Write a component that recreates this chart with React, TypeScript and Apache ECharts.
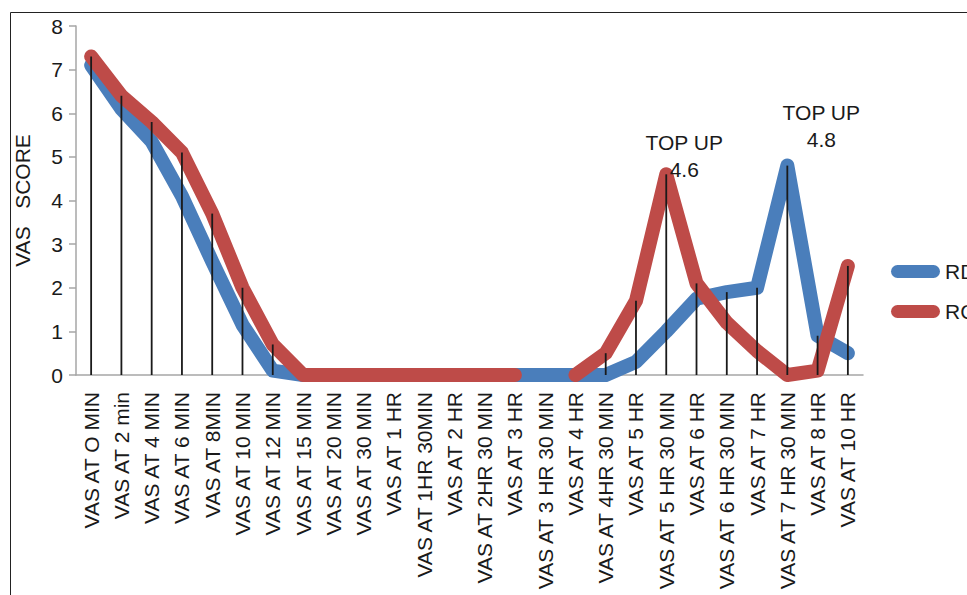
import React, { useEffect, useRef } from "react";
import * as echarts from "echarts";

const categories = [
  "VAS AT O MIN",
  "VAS AT 2 min",
  "VAS AT 4 MIN",
  "VAS AT 6 MIN",
  "VAS AT 8MIN",
  "VAS AT 10 MIN",
  "VAS AT 12 MIN",
  "VAS AT 15 MIN",
  "VAS AT 20 MIN",
  "VAS AT 30 MIN",
  "VAS AT 1 HR",
  "VAS AT 1HR 30MIN",
  "VAS AT 2 HR",
  "VAS AT 2HR 30 MIN",
  "VAS AT 3 HR",
  "VAS AT 3 HR 30 MIN",
  "VAS AT 4 HR",
  "VAS AT 4HR 30 MIN",
  "VAS AT 5 HR",
  "VAS AT 5 HR 30 MIN",
  "VAS AT 6 HR",
  "VAS AT 6 HR 30 MIN",
  "VAS AT 7 HR",
  "VAS AT 7 HR 30 MIN",
  "VAS AT 8 HR",
  "VAS AT 10 HR",
];

const rdValues: (number | null)[] = [
  7.1, 6.1, 5.35, 4.1, 2.6, 1.15, 0.1, 0, 0, 0, 0, 0, 0, 0, 0, 0, 0, 0, 0.3,
  1.0, 1.75, 1.9, 2.0, 4.8, 0.9, 0.5,
];

const rcValues: (number | null)[] = [
  7.3, 6.4, 5.8, 5.1, 3.7, 2.0, 0.7, 0, 0, 0, 0, 0, 0, 0, 0, null, 0, 0.5, 1.7,
  4.6, 2.1, 1.2, 0.55, 0, 0.1, 2.5,
];

const seriesNames = ["RD", "RC"];
const yTicks = { min: 0, max: 8, interval: 1 };
const annotationText = "TOP UP";
const annotations = [
  { series: "RC", index: 19 },
  { series: "RD", index: 23 },
];

const FONT = "'Liberation Sans', Arial, sans-serif";

export default function App() {
  const ref = useRef<HTMLDivElement>(null);

  useEffect(() => {
    if (!ref.current) return;
    const chart = echarts.init(ref.current, undefined, { renderer: "svg" });

    const dropValues = categories.map((_, i) => {
      const vals = [rdValues[i], rcValues[i]].filter(
        (v) => v !== null && v !== undefined
      ) as number[];
      return vals.length ? Math.max(...vals) : 0;
    });

    const markFor = (name: string, values: (number | null)[], offset: number[]) => ({
      symbol: "circle",
      symbolSize: 1,
      itemStyle: { color: "rgba(0,0,0,0)" },
      silent: true,
      label: {
        show: true,
        position: "inside",
        offset,
        color: "#1a1a1a",
        fontFamily: FONT,
        fontSize: 21,
        lineHeight: 27,
        align: "center",
        verticalAlign: "middle",
      },
      data: annotations
        .filter((a) => a.series === name)
        .map((a) => ({
          coord: [a.index, values[a.index]],
          value: values[a.index],
          label: { formatter: `${annotationText}\n${values[a.index]}` },
        })),
    });

    const lineStyleBase = { width: 14, cap: "round", join: "round" } as any;

    chart.setOption({
      animation: false,
      textStyle: { fontFamily: FONT },
      grid: { left: 76, right: 104, top: 26, bottom: 220, containLabel: false },
      legend: {
        data: seriesNames,
        orient: "vertical",
        left: 891,
        top: 261,
        itemWidth: 49,
        itemHeight: 13,
        itemGap: 19,
        padding: 0,
        icon: "path://M6.5,0 L42.5,0 A6.5,6.5 0 0 1 42.5,13 L6.5,13 A6.5,6.5 0 0 1 6.5,0 Z",
        textStyle: { fontSize: 21, color: "#1a1a1a", fontFamily: FONT, lineHeight: 20 },
        selectedMode: false,
      },
      graphic: [
        {
          type: "rect",
          shape: { x: 10.5, y: 12.5, width: 2000, height: 2000 },
          style: { fill: "none", stroke: "#222", lineWidth: 1 },
          silent: true,
          z: -10,
        },
      ],
      xAxis: {
        type: "category",
        data: categories,
        boundaryGap: true,
        axisLine: { show: true, lineStyle: { color: "#a6a6a6", width: 1.5 } },
        axisTick: { show: false },
        axisLabel: {
          rotate: 90,
          interval: 0,
          margin: 17,
          fontSize: 21,
          color: "#1a1a1a",
          fontFamily: FONT,
        },
        splitLine: { show: false },
      },
      yAxis: {
        type: "value",
        min: yTicks.min,
        max: yTicks.max,
        interval: yTicks.interval,
        name: "VAS   SCORE",
        nameLocation: "middle",
        nameGap: 43,
        nameRotate: 90,
        nameTextStyle: { fontSize: 21, color: "#1a1a1a", fontFamily: FONT },
        axisLine: { show: true, lineStyle: { color: "#a6a6a6", width: 1.5 } },
        axisTick: { show: true, length: 7, lineStyle: { color: "#a6a6a6", width: 1.5 } },
        axisLabel: { fontSize: 21, color: "#1a1a1a", margin: 13, fontFamily: FONT },
        splitLine: { show: false },
      },
      series: [
        {
          name: "RD",
          type: "line",
          data: rdValues,
          showSymbol: false,
          symbol: "none",
          connectNulls: false,
          color: "#4a7ebb",
          lineStyle: { ...lineStyleBase, color: "#4a7ebb" },
          z: 2,
          markPoint: markFor("RD", rdValues, [34, -40]),
        },
        {
          name: "RC",
          type: "line",
          data: rcValues,
          showSymbol: false,
          symbol: "none",
          connectNulls: false,
          color: "#be4b48",
          lineStyle: { ...lineStyleBase, color: "#be4b48" },
          z: 3,
          markPoint: markFor("RC", rcValues, [18, -18]),
        },
        {
          name: "drop",
          type: "bar",
          data: dropValues,
          barWidth: 1.8,
          itemStyle: { color: "#1a1a1a" },
          silent: true,
          z: 4,
        },
      ],
    });

    return () => chart.dispose();
  }, []);

  return (
    <div
      ref={ref}
      style={{ position: "absolute", left: 0, top: 0, width: 967, height: 595, background: "#fff" }}
    />
  );
}
